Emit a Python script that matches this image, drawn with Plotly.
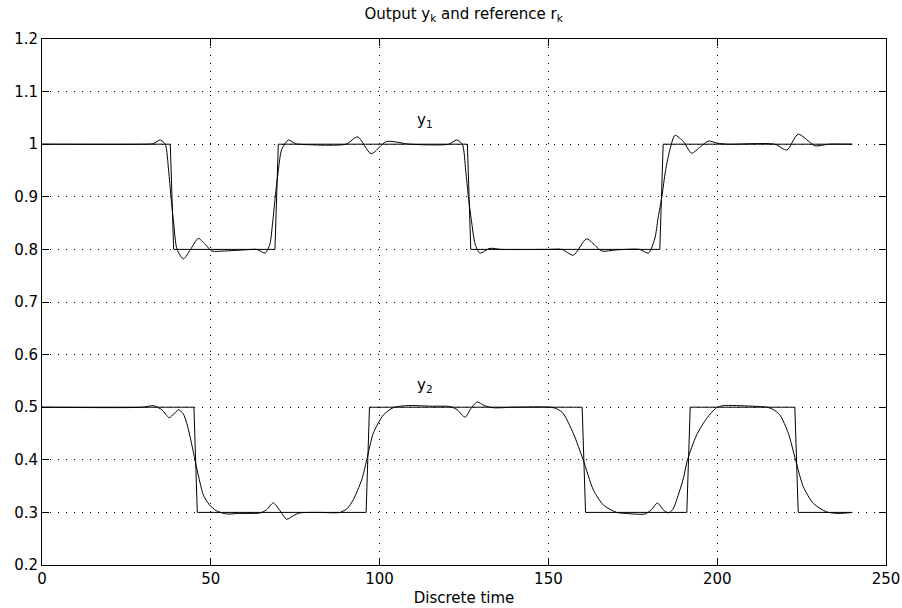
import plotly.graph_objects as go

# Reference signals: breakpoints (time, level) of the piecewise-constant set-points
r1_t = [0, 38, 39, 69, 70, 126, 127, 183, 184, 240]
r1_v = [1.0, 1.0, 0.8, 0.8, 1.0, 1.0, 0.8, 0.8, 1.0, 1.0]

r2_t = [0, 45, 46, 96, 97, 160, 161, 191, 192, 223, 224, 240]
r2_v = [0.5, 0.5, 0.3, 0.3, 0.5, 0.5, 0.3, 0.3, 0.5, 0.5, 0.3, 0.3]

# Plant output y1
y1_t = [0, 30, 33, 35, 36.5, 37.5, 38.2, 39, 40, 41.9, 44, 46.3, 48.3, 50.3, 54,
        60, 63.6, 66.1, 67.5, 68.3, 69.1, 70, 71, 73, 75, 76, 90, 93.5, 97.5,
        102, 109, 120.5, 122.8, 124.5, 125.5, 126.3, 127.3, 128.3, 129.7, 132.7,
        136, 150, 154, 157.4, 161.3, 165.8, 170, 177, 179.6, 181.5, 182.5, 183.6,
        184.7, 186, 187.5, 190, 192.4, 195, 197.4, 200, 203, 217, 220.6, 224,
        229, 233, 240]
y1_v = [1.0, 1.0, 1.001, 1.008, 1.0, 0.95, 0.90, 0.85, 0.80, 0.782, 0.80, 0.821,
        0.81, 0.797, 0.797, 0.799, 0.800, 0.793, 0.81, 0.85, 0.90, 0.95, 0.99,
        1.008, 1.001, 1.0, 1.0, 1.014, 0.982, 1.005, 1.0, 1.0, 1.008, 1.0, 0.95,
        0.90, 0.85, 0.81, 0.793, 0.802, 0.80, 0.80, 0.80, 0.789, 0.82, 0.797,
        0.799, 0.800, 0.793, 0.82, 0.86, 0.90, 0.95, 0.99, 1.017, 1.005, 0.983,
        0.995, 1.006, 1.002, 1.0, 1.0, 0.989, 1.019, 0.997, 1.0, 1.0]

# Plant output y2
y2_t = [0, 30, 33, 35.5, 37.7, 39, 40.4, 41.8, 42.9, 44, 45.3, 46.5, 47.8, 49.5,
        51.7, 54.7, 58, 64.6, 66.5, 68.5, 70.3, 72.5, 74.5, 76.4, 82, 88.3, 90.5,
        92.2, 94.7, 96.2, 98.1, 101.1, 104, 108, 115, 121, 123, 125.3, 127,
        128.9, 131, 133.7, 140, 150.5, 152.5, 154.4, 157.4, 160.3, 163.3, 166.3,
        170.2, 173, 178.6, 180.5, 182.3, 184, 185.5, 186.8, 188, 190, 191.2,
        193.9, 196.9, 199.8, 201.8, 210, 214.7, 216.5, 218.6, 221.1, 223.2,
        225.5, 228.5, 232.4, 236, 240]
y2_v = [0.5, 0.5, 0.503, 0.495, 0.480, 0.487, 0.495, 0.488, 0.469, 0.44, 0.40,
        0.365, 0.333, 0.315, 0.303, 0.297, 0.298, 0.299, 0.305, 0.318, 0.305,
        0.287, 0.294, 0.299, 0.300, 0.300, 0.308, 0.324, 0.362, 0.400, 0.450,
        0.485, 0.499, 0.503, 0.502, 0.501, 0.495, 0.481, 0.497, 0.510, 0.503,
        0.499, 0.5, 0.5, 0.497, 0.488, 0.450, 0.400, 0.343, 0.314, 0.300, 0.298,
        0.297, 0.305, 0.318, 0.305, 0.299, 0.305, 0.324, 0.365, 0.400, 0.447,
        0.479, 0.499, 0.503, 0.502, 0.500, 0.496, 0.485, 0.450, 0.400, 0.349,
        0.317, 0.301, 0.298, 0.3]

FONT = "DejaVu Sans"
TXT = dict(family=FONT, size=15, color="black")
line = dict(color="black", width=1)
smooth = dict(color="black", width=1, shape="spline", smoothing=0.7)

fig = go.Figure()
fig.add_trace(go.Scatter(x=r1_t, y=r1_v, mode="lines", line=line))
fig.add_trace(go.Scatter(x=r2_t, y=r2_v, mode="lines", line=line))
fig.add_trace(go.Scatter(x=y1_t, y=y1_v, mode="lines", line=smooth))
fig.add_trace(go.Scatter(x=y2_t, y=y2_v, mode="lines", line=smooth))

fig.add_annotation(x=113.5, y=1.046, text="y<sub>1</sub>", showarrow=False, font=TXT)
fig.add_annotation(x=113.5, y=0.542, text="y<sub>2</sub>", showarrow=False, font=TXT)

axis_common = dict(
    showline=True, linecolor="black", linewidth=1, mirror="ticks",
    ticks="inside", ticklen=7, tickcolor="black", tickwidth=1,
    showgrid=True, gridcolor="black", gridwidth=1, griddash="1px,7px",
    zeroline=False, automargin=False, tickfont=TXT,
)

fig.update_layout(
    width=902, height=608,
    margin=dict(l=42, r=16, t=39, b=43),
    paper_bgcolor="white", plot_bgcolor="white",
    showlegend=False,
    title=dict(text="Output y<sub>k</sub> and reference r<sub>k</sub>",
               x=0.514, xanchor="center", y=1 - 14 / 608, yanchor="middle",
               yref="container", font=TXT),
    xaxis=dict(range=[0, 250], dtick=50, tick0=0,
               title=dict(text="Discrete time", standoff=5, font=TXT),
               **axis_common),
    yaxis=dict(range=[0.2, 1.2], dtick=0.1, tick0=0.2, **axis_common),
)

fig.write_html("out.html")
